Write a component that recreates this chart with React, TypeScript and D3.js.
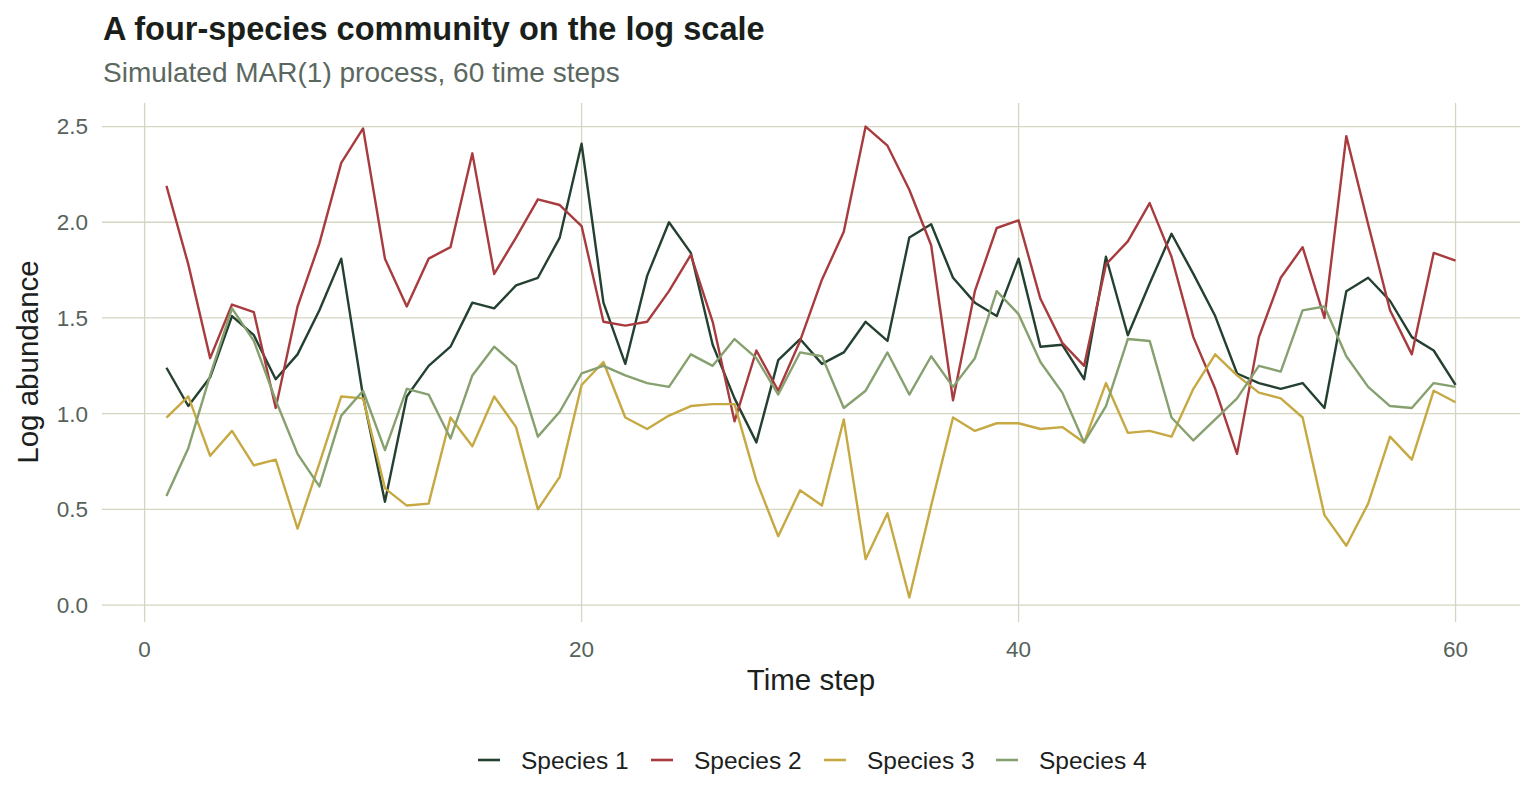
import React, { useRef, useEffect } from "react";
import * as d3 from "d3";

const steps = d3.range(1, 61);

const species1 = [
  1.24, 1.04, 1.19, 1.51, 1.41, 1.18, 1.31, 1.54, 1.81, 1.09,
  0.54, 1.09, 1.25, 1.35, 1.58, 1.55, 1.67, 1.71, 1.92, 2.41,
  1.58, 1.26, 1.72, 2.0, 1.84, 1.36, 1.08, 0.85, 1.28, 1.39,
  1.26, 1.32, 1.48, 1.38, 1.92, 1.99, 1.71, 1.58, 1.51, 1.81,
  1.35, 1.36, 1.18, 1.82, 1.41, 1.68, 1.94, 1.73, 1.51, 1.21,
  1.16, 1.13, 1.16, 1.03, 1.64, 1.71, 1.59, 1.4, 1.33, 1.15,
];

const species2 = [
  2.19, 1.78, 1.29, 1.57, 1.53, 1.03, 1.56, 1.89, 2.31, 2.49,
  1.81, 1.56, 1.81, 1.87, 2.36, 1.73, 1.92, 2.12, 2.09, 1.98,
  1.48, 1.46, 1.48, 1.64, 1.83, 1.48, 0.96, 1.33, 1.12, 1.38,
  1.7, 1.95, 2.5, 2.4, 2.17, 1.88, 1.07, 1.64, 1.97, 2.01,
  1.6, 1.37, 1.25, 1.78, 1.9, 2.1, 1.82, 1.4, 1.13, 0.79,
  1.4, 1.71, 1.87, 1.5, 2.45, 1.99, 1.54, 1.31, 1.84, 1.8,
];

const species3 = [
  0.98, 1.09, 0.78, 0.91, 0.73, 0.76, 0.4, 0.74, 1.09, 1.08,
  0.61, 0.52, 0.53, 0.98, 0.83, 1.09, 0.93, 0.5, 0.67, 1.15,
  1.27, 0.98, 0.92, 0.99, 1.04, 1.05, 1.05, 0.65, 0.36, 0.6,
  0.52, 0.97, 0.24, 0.48, 0.04, 0.52, 0.98, 0.91, 0.95, 0.95,
  0.92, 0.93, 0.85, 1.16, 0.9, 0.91, 0.88, 1.13, 1.31, 1.2,
  1.11, 1.08, 0.98, 0.47, 0.31, 0.53, 0.88, 0.76, 1.12, 1.06,
];

const species4 = [
  0.57, 0.82, 1.2, 1.55, 1.38, 1.07, 0.79, 0.62, 0.99, 1.12,
  0.81, 1.13, 1.1, 0.87, 1.2, 1.35, 1.25, 0.88, 1.01, 1.21,
  1.25, 1.2, 1.16, 1.14, 1.31, 1.25, 1.39, 1.29, 1.1, 1.32,
  1.3, 1.03, 1.12, 1.32, 1.1, 1.3, 1.14, 1.29, 1.64, 1.52,
  1.27, 1.11, 0.85, 1.04, 1.39, 1.38, 0.98, 0.86, 0.97, 1.08,
  1.25, 1.22, 1.54, 1.56, 1.3, 1.14, 1.04, 1.03, 1.16, 1.14,
];

const seriesNames = ["Species 1", "Species 2", "Species 3", "Species 4"];
const seriesColors = ["#234030", "#a83b3e", "#c6a942", "#86a06f"];
const xTicks = [0, 20, 40, 60];
const yTicks = [0, 0.5, 1.0, 1.5, 2.0, 2.5];

const FONT = "'Liberation Sans', Arial, Helvetica, sans-serif";

function CommunityChart() {
  const svgRef = useRef<SVGSVGElement>(null);

  useEffect(() => {
    const width = 1536;
    const height = 806;
    const panel = { left: 102, right: 1520 };

    const svg = d3.select(svgRef.current).attr("width", width).attr("height", height);
    svg.selectAll("*").remove();

    const allSeries = [species1, species2, species3, species4];

    // ggplot-style 5% expansion on both axes
    const [xmin, xmax] = d3.extent(steps) as [number, number];
    const xPad = (xmax - xmin) * 0.05;
    const x = d3.scaleLinear()
      .domain([xmin - xPad, xmax + xPad])
      .range([panel.left, panel.right]);

    const flat = allSeries.flat();
    const ymin = d3.min(flat) as number;
    const ymax = d3.max(flat) as number;
    const yPad = (ymax - ymin) * 0.05;
    const y = d3.scaleLinear()
      .domain([ymin - yPad, ymax + yPad])
      .range([621, 103]);

    const grid = "#d5d5c3";

    // Grid lines
    svg.append("g")
      .selectAll("line")
      .data(yTicks)
      .enter()
      .append("line")
      .attr("x1", panel.left)
      .attr("x2", panel.right)
      .attr("y1", d => y(d))
      .attr("y2", d => y(d))
      .attr("stroke", grid)
      .attr("stroke-width", 1.3);

    svg.append("g")
      .selectAll("line")
      .data(xTicks)
      .enter()
      .append("line")
      .attr("x1", d => x(d))
      .attr("x2", d => x(d))
      .attr("y1", y.range()[0] + 1)
      .attr("y2", y.range()[1])
      .attr("stroke", grid)
      .attr("stroke-width", 1.3);

    // Series lines
    const line = d3.line<number>()
      .x((_, i) => x(steps[i]))
      .y(d => y(d));

    svg.append("g")
      .selectAll("path")
      .data(allSeries)
      .enter()
      .append("path")
      .attr("d", d => line(d))
      .attr("fill", "none")
      .attr("stroke", (_, i) => seriesColors[i])
      .attr("stroke-width", 2.4)
      .attr("stroke-linejoin", "round");

    // Tick labels
    const tickColor = "#56625a";
    svg.append("g")
      .selectAll("text")
      .data(yTicks)
      .enter()
      .append("text")
      .attr("x", 88)
      .attr("y", d => y(d))
      .attr("dy", "0.35em")
      .attr("text-anchor", "end")
      .attr("font-family", FONT)
      .attr("font-size", 22.5)
      .attr("fill", tickColor)
      .text(d => d3.format(".1f")(d));

    svg.append("g")
      .selectAll("text")
      .data(xTicks)
      .enter()
      .append("text")
      .attr("x", d => x(d))
      .attr("y", 657)
      .attr("text-anchor", "middle")
      .attr("font-family", FONT)
      .attr("font-size", 22.5)
      .attr("fill", tickColor)
      .text(d => d);

    // Axis titles
    svg.append("text")
      .attr("x", (panel.left + panel.right) / 2)
      .attr("y", 690)
      .attr("text-anchor", "middle")
      .attr("font-family", FONT)
      .attr("font-size", 29.5)
      .attr("fill", "#1b211d")
      .text("Time step");

    svg.append("text")
      .attr("transform", "rotate(-90)")
      .attr("x", -(y.range()[0] + y.range()[1]) / 2)
      .attr("y", 38)
      .attr("text-anchor", "middle")
      .attr("font-family", FONT)
      .attr("font-size", 29.5)
      .attr("fill", "#1b211d")
      .text("Log abundance");

    // Title and subtitle
    svg.append("text")
      .attr("x", 103)
      .attr("y", 40)
      .attr("font-family", FONT)
      .attr("font-size", 32.5)
      .attr("font-weight", "bold")
      .attr("fill", "#1a1f1c")
      .text("A four-species community on the log scale");

    svg.append("text")
      .attr("x", 103)
      .attr("y", 82)
      .attr("font-family", FONT)
      .attr("font-size", 28)
      .attr("fill", "#5b685f")
      .text("Simulated MAR(1) process, 60 time steps");

    // Legend
    const legendX = [478, 651, 824, 996];
    const legend = svg.append("g")
      .selectAll("g")
      .data(seriesNames)
      .enter()
      .append("g")
      .attr("transform", (_, i) => `translate(${legendX[i]}, 760)`);

    legend.append("line")
      .attr("x1", 0)
      .attr("x2", 22)
      .attr("stroke", (_, i) => seriesColors[i])
      .attr("stroke-width", 2.6);

    legend.append("text")
      .attr("x", 43)
      .attr("dy", "0.35em")
      .attr("font-family", FONT)
      .attr("font-size", 24.5)
      .attr("fill", "#1b211d")
      .text(d => d);
  }, []);

  return <svg ref={svgRef} style={{ position: "absolute", left: 0, top: 0 }}></svg>;
}

export default function App() {
  return <CommunityChart />;
}
